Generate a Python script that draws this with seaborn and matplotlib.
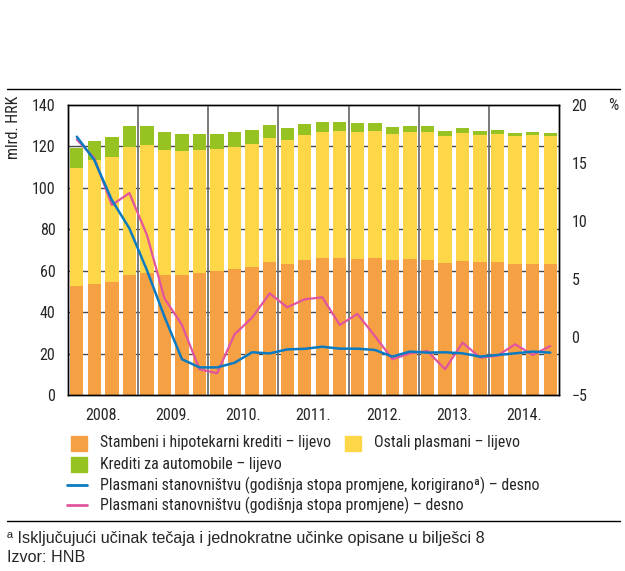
import numpy as np
import pandas as pd
import matplotlib
matplotlib.use("Agg")
import matplotlib.pyplot as plt
from matplotlib import font_manager
from matplotlib.patches import Rectangle
from matplotlib.lines import Line2D
import seaborn as sns

# quarterly data 2008 Q1 - 2014 Q4
years = ["2008.", "2009.", "2010.", "2011.", "2012.", "2013.", "2014."]
quarters = [f"{y[:4]}Q{q}" for y in years for q in range(1, 5)]

# billion HRK (left axis)
stambeni = [52.7, 53.8, 54.6, 58.1, 58.9, 58.0, 58.1, 58.9, 59.7, 60.8, 62.0, 64.2, 63.4, 65.2,
            66.0, 66.1, 65.7, 66.0, 65.2, 65.7, 65.2, 63.6, 64.7, 64.2, 64.2, 63.1, 63.1, 63.1]
ostali = [56.9, 59.5, 60.4, 61.5, 61.5, 60.2, 59.6, 59.3, 58.8, 59.0, 59.2, 59.9, 59.6, 60.2,
          61.0, 61.2, 61.3, 61.3, 60.8, 61.0, 61.5, 61.3, 61.6, 61.2, 61.5, 61.8, 62.1, 62.0]
automobili = [9.7, 9.4, 9.4, 10.0, 9.5, 8.6, 8.2, 7.7, 7.4, 7.2, 6.8, 6.1, 5.6, 5.3,
              4.8, 4.3, 4.2, 3.7, 3.2, 3.2, 2.9, 2.4, 2.5, 2.1, 1.9, 1.6, 1.5, 1.4]

# annual rate of change, % (right axis)
stopa_korigirano = [17.25, 15.24, 11.8, 9.36, 5.77, 1.77, -1.9, -2.6, -2.6, -2.2, -1.3, -1.4, -1.05, -1.0,
                    -0.82, -0.99, -0.99, -1.1, -1.67, -1.24, -1.33, -1.3, -1.39, -1.67, -1.53, -1.39, -1.24, -1.33]
stopa = [17.0, 15.4, 11.37, 12.4, 8.8, 3.34, 1.05, -2.76, -3.1, 0.25, 1.68, 3.77, 2.57, 3.26,
         3.43, 1.05, 2.0, 0.1, -1.9, -1.39, -1.19, -2.76, -0.47, -1.76, -1.59, -0.61, -1.53, -0.76]

c_orange = "#F5A043"
c_yellow = "#FDD748"
c_green = "#97C322"
c_blue = "#0B7BC1"
c_pink = "#E2559E"

sns.set_style("white")
names = {f.name for f in font_manager.fontManager.ttflist}
narrow = next((n for n in ["Liberation Sans Narrow", "Roboto Condensed", "Archivo Narrow", "PT Sans Narrow"]
               if n in names), None)
regular = "Liberation Sans" if "Liberation Sans" in names else "DejaVu Sans"
if narrow:
    plt.rcParams["font.family"] = [narrow, "DejaVu Sans"]
else:
    plt.rcParams["font.family"] = ["DejaVu Sans"]
    plt.rcParams["font.stretch"] = "condensed"

df = pd.DataFrame({"kvartal": quarters, "stambeni": stambeni, "ostali": ostali,
                   "automobili": automobili})
df["top_ostali"] = df["stambeni"] + df["ostali"]
df["top_auto"] = df["top_ostali"] + df["automobili"]

W, H = 625, 571
fig = plt.figure(figsize=(W / 100, H / 100), dpi=100)
ax = fig.add_axes([68 / W, 1 - 395.3 / H, 491 / W, 290.6 / H])

# stacked bars: draw cumulative totals from the tallest down
for col, c in [("top_auto", c_green), ("top_ostali", c_yellow), ("stambeni", c_orange)]:
    sns.barplot(data=df, x="kvartal", y=col, color=c, width=0.76, linewidth=0,
                saturation=1, ax=ax, zorder=2)

ax.set_ylim(0, 140)
ax.set_yticks(range(0, 141, 20))
ax.set_xlim(-0.5, len(quarters) - 0.5)
for yv in range(20, 140, 20):
    ax.axhline(yv, color="#4a4a4a", lw=1, zorder=1)
for k in range(1, len(years)):
    ax.axvline(4 * k - 0.5, color="#707070", lw=1.3, zorder=3)
ax.set_xticks([4 * k + 1.5 for k in range(len(years))])
ax.set_xticklabels(years)
ax.set_xlabel("")
ax.set_ylabel("")
ax.tick_params(axis="both", length=0, labelsize=11.5)
ax.tick_params(axis="y", pad=9)
ax.tick_params(axis="x", pad=9)

ax2 = ax.twinx()
xs = np.arange(len(quarters))
sns.lineplot(x=xs, y=stopa, color=c_pink, lw=1.6, ax=ax2, legend=False)
sns.lineplot(x=xs, y=stopa_korigirano, color=c_blue, lw=1.8, ax=ax2, legend=False)
ax2.set_ylim(-5, 20)
ax2.set_yticks(range(-5, 21, 5))
ax2.set_yticklabels([("\u2212" + str(-v)) if v < 0 else str(v) for v in range(-5, 21, 5)])
ax2.tick_params(axis="y", length=0, labelsize=11.5, pad=9)
ax2.set_xlim(-0.5, len(quarters) - 0.5)

for a in (ax, ax2):
    for s in a.spines.values():
        s.set_color("black")
        s.set_linewidth(1)

# axis unit labels
fig.text(13 / W, 1 - 96 / H, "mlrd. HRK", rotation=90, ha="center", va="top", fontsize=11.5)
fig.text(613 / W, 1 - 105 / H, "%", ha="center", va="center", fontsize=11.5)

# top rule and bottom rule
fig.add_artist(Line2D([7 / W, 620 / W], [1 - 89 / H, 1 - 89 / H], color="black", lw=1))
fig.add_artist(Line2D([7 / W, 620 / W], [1 - 521 / H, 1 - 521 / H], color="black", lw=1))

# legend
def patch_item(x, y, color, label):
    fig.add_artist(Rectangle((x / W, 1 - (y + 7.5) / H), 16 / W, 15 / H,
                             color=color, transform=fig.transFigure))
    fig.text((x + 29) / W, 1 - y / H, label, va="center", ha="left", fontsize=11.4)

def line_item(y, color, label):
    fig.add_artist(Line2D([67 / W, 87 / W], [1 - y / H, 1 - y / H], color=color, lw=2))
    fig.text(100 / W, 1 - y / H, label, va="center", ha="left", fontsize=11.4)

patch_item(71, 443, c_orange, "Stambeni i hipotekarni krediti \u2013 lijevo")
patch_item(345, 443, c_yellow, "Ostali plasmani \u2013 lijevo")
patch_item(71, 464, c_green, "Krediti za automobile \u2013 lijevo")
line_item(485, c_blue, "Plasmani stanovništvu (godišnja stopa promjene, korigirano\u00aa) \u2013 desno")
line_item(505, c_pink, "Plasmani stanovništvu (godišnja stopa promjene) \u2013 desno")

# footnote and source
fig.text(7 / W, 1 - 538 / H, "\u00aa Isključujući učinak tečaja i jednokratne učinke opisane u bilješci 8",
         va="center", ha="left", fontsize=11.6, family=[regular, "DejaVu Sans"])
fig.text(7 / W, 1 - 557 / H, "Izvor: HNB", va="center", ha="left", fontsize=11.6,
         family=[regular, "DejaVu Sans"])

fig.savefig("out.png", dpi=100)
